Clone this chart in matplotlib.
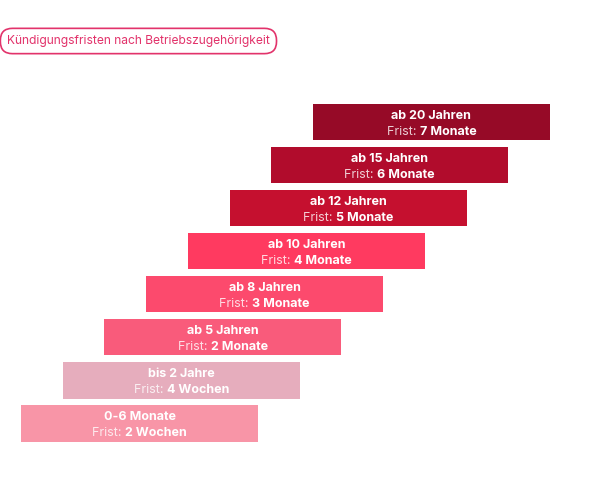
import matplotlib.pyplot as plt
from matplotlib.transforms import offset_copy

plt.rcParams['font.family'] = ['Inter', 'DejaVu Sans']

# data, bottom step first
stufen = ['0-6 Monate', 'bis 2 Jahre', 'ab 5 Jahren', 'ab 8 Jahren',
          'ab 10 Jahren', 'ab 12 Jahren', 'ab 15 Jahren', 'ab 20 Jahren']
fristen = ['2 Wochen', '4 Wochen', '2 Monate', '3 Monate',
           '4 Monate', '5 Monate', '6 Monate', '7 Monate']
farben = ['#f895a7', '#e6adbd', '#f95b7b', '#fc4a6d',
          '#ff3a60', '#c5102f', '#b10c2c', '#960a27']
titel = 'Kündigungsfristen nach Betriebszugehörigkeit'

step = 41.7      # horizontal shift per step (px)
bar_w = 237
x0 = 21

fig = plt.figure(figsize=(6, 4.8), dpi=100)
ax = fig.add_axes([0, 0.0729, 1, 0.7177])
ax.set_xlim(0, 600)
ax.set_ylim(-0.5, len(stufen) - 0.5)
ax.axis('off')

idx = list(range(len(stufen)))
lefts = [x0 + i * step for i in idx]
ax.barh(idx, bar_w, left=lefts, height=0.84, color=farben)

renderer = fig.canvas.get_renderer()
fs = 9
for i, (s, f) in enumerate(zip(stufen, fristen)):
    cx = lefts[i] + bar_w / 2
    ax.text(cx, i + 0.15, s, ha='center', va='center', color='white',
            fontsize=fs, fontweight='bold')
    ta = ax.text(cx, i - 0.23, 'Frist: ', ha='left', va='center',
                 color='white', alpha=0.8, fontsize=fs)
    tb = ax.text(cx, i - 0.23, f, ha='left', va='center', color='white',
                 fontsize=fs, fontweight='bold')
    wa = ta.get_window_extent(renderer).width
    wb = tb.get_window_extent(renderer).width
    start = -(wa + wb) / 2
    ta.set_transform(offset_copy(ax.transData, fig=fig, x=start, y=0, units='dots'))
    tb.set_transform(offset_copy(ax.transData, fig=fig, x=start + wa, y=0, units='dots'))

fig.text(7 / 600, 1 - 41 / 480, titel, ha='left', va='center',
         color='#e2336b', fontsize=8.7,
         bbox=dict(boxstyle='round,pad=0.55,rounding_size=1.0',
                   ec='#e2336b', fc='white', lw=1.2))

fig.savefig('out.png', dpi=100, facecolor='white')
